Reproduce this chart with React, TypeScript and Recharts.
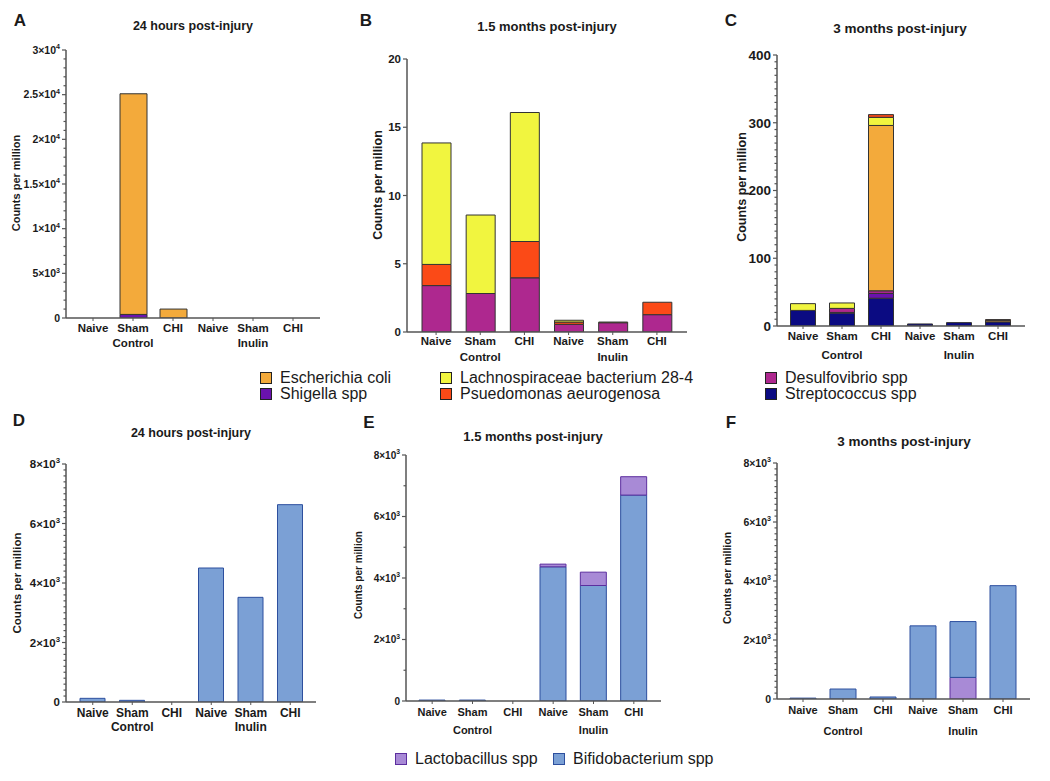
import React from "react";
import { BarChart, Bar, XAxis, YAxis } from "recharts";

const conditions = ["Naive", "Sham", "CHI", "Naive", "Sham", "CHI"];
const groups = ["Control", "Inulin"];

// A - 24 h, pathobionts
const aShigella = [0, 400, 0, 0, 0, 0];
const aEcoli = [0, 24700, 1000, 0, 0, 0];

// B - 1.5 months, pathobionts
const bDesulfo = [3.4, 2.82, 3.97, 0.56, 0.68, 1.27];
const bPseudo = [1.55, 0, 2.66, 0.17, 0, 0.91];
const bLachno = [8.9, 5.75, 9.45, 0.13, 0.05, 0];

// C - 3 months, pathobionts
const cStrep = [23, 19, 41, 3, 5, 6];
const cShigella = [0, 1, 7, 0, 0, 0];
const cDesulfo = [0, 6, 4, 0, 0, 0];
const cEcoli = [0, 0, 244, 0, 0, 2];
const cLachno = [10, 8, 12, 0, 0, 0];
const cPseudo = [0, 0, 4, 0, 0, 1.5];

// D-F - probiotics
const dBifido = [123, 56, 0, 4504, 3518, 6633];
const eBifido = [30, 30, 0, 4364, 3756, 6697];
const eLacto = [0, 0, 0, 87, 434, 597];
const fLacto = [0, 0, 0, 0, 732, 0];
const fBifido = [30, 338, 68, 2479, 1893, 3842];

const topLegend = [
  ["Escherichia coli", "Shigella spp"],
  ["Lachnospiraceae bacterium 28-4", "Psuedomonas aeurogenosa"],
  ["Desulfovibrio spp", "Streptococcus spp"],
];
const bottomLegend = ["Lactobacillus spp", "Bifidobacterium spp"];

const C = {
  ecoli: "#F3AA3B",
  shigella: "#6A12AE",
  lachno: "#F1F53F",
  pseudo: "#FB4A17",
  desulfo: "#AE288F",
  strep: "#0B0B82",
  lacto: "#A88AD6",
  bifido: "#7BA0D5",
};
const FONT = "'Liberation Sans', Arial, sans-serif";
const INK = "#1a1a1a";
const AXIS = "#555";

type Series = { key: string; values: number[]; fill: string; stroke: string };

const rowsFor = (series: Series[]) =>
  conditions.map((cond, i) => {
    const row: Record<string, any> = { key: "c" + i, cond };
    series.forEach((s) => (row[s.key] = s.values[i]));
    return row;
  });

const sup = (v: number) => {
  if (v === 0) return { m: "0", e: "" };
  const e = v >= 10000 ? 4 : 3;
  return { m: String(v / 10 ** e), e: String(e) };
};

const YTick = (p: any) => {
  const { x, y, payload, cfg } = p;
  const v = payload.value;
  const major = cfg.majors.includes(v);
  const fs = cfg.tickFs;
  let label: any = null;
  if (major) {
    if (cfg.sci) {
      const s = sup(v);
      label = (
        <text x={x - 6} y={y + fs * 0.36} textAnchor="end" fontSize={fs} fontWeight="bold" fill={INK} fontFamily={FONT}>
          {s.m}
          {s.e && <tspan>×10</tspan>}
          {s.e && <tspan dy={-fs * 0.42} fontSize={fs * 0.68}>{s.e}</tspan>}
        </text>
      );
    } else {
      label = (
        <text x={x - 6} y={y + fs * 0.36} textAnchor="end" fontSize={fs} fontWeight="bold" fill={INK} fontFamily={FONT}>
          {v}
        </text>
      );
    }
  }
  return (
    <g>
      <line x1={x} x2={x - (major ? 4 : 2.5)} y1={y} y2={y} stroke={AXIS} strokeWidth={1.2} />
      {label}
    </g>
  );
};

const XTick = (p: any) => {
  const { x, y, index, cfg } = p;
  return (
    <g fontFamily={FONT} fontWeight="bold" fill={INK}>
      <line x1={x} x2={x} y1={y} y2={y + 3} stroke={AXIS} strokeWidth={1} />
      <text x={x} y={y + cfg.tickBase} textAnchor="middle" fontSize={cfg.xFs}>
        {conditions[index]}
      </text>
      {index % 3 === 1 && (
        <text x={x} y={y + cfg.groupBase} textAnchor="middle" fontSize={cfg.xFs}>
          {groups[Math.floor(index / 3)]}
        </text>
      )}
    </g>
  );
};

type Cfg = {
  x0: number; x1: number; yTop: number; yBottom: number; max: number; majors: number[]; minor: number;
  sci: boolean; tickFs: number; xFs: number; tickBase: number; groupBase: number; barSize: number;
  pad: [number, number]; series: Series[];
  letter: string; letterPos: [number, number]; title: string; titlePos: [number, number]; titleFs: number;
  yLabelPos: [number, number]; yLabelFs: number;
};

const L = 60, T = 10, R = 10, XH = 45;

const Panel = ({ cfg }: { cfg: Cfg }) => {
  const ticks = [...cfg.majors];
  if (cfg.minor) for (let v = 0; v <= cfg.max; v += cfg.minor) if (!ticks.includes(v)) ticks.push(v);
  ticks.sort((a, b) => a - b);
  const data = rowsFor(cfg.series);
  return (
    <>
      <div style={{ position: "absolute", left: cfg.letterPos[0], top: cfg.letterPos[1], transform: "translate(-50%,-50%)", fontFamily: FONT, fontWeight: "bold", fontSize: 17, color: INK }}>
        {cfg.letter}
      </div>
      <div style={{ position: "absolute", left: cfg.titlePos[0], top: cfg.titlePos[1], transform: "translate(-50%,-50%)", fontFamily: FONT, fontWeight: "bold", fontSize: cfg.titleFs, color: INK, whiteSpace: "nowrap" }}>
        {cfg.title}
      </div>
      <div style={{ position: "absolute", left: cfg.yLabelPos[0], top: cfg.yLabelPos[1], transform: "translate(-50%,-50%) rotate(-90deg)", fontFamily: FONT, fontWeight: "bold", fontSize: cfg.yLabelFs, color: INK, whiteSpace: "nowrap" }}>
        Counts per million
      </div>
      <div style={{ position: "absolute", left: cfg.x0 - L, top: cfg.yTop - T }}>
        <BarChart
          width={cfg.x1 - cfg.x0 + L + R}
          height={cfg.yBottom - cfg.yTop + T + XH}
          data={data}
          margin={{ top: T, right: R, left: 0, bottom: 0 }}
          barCategoryGap={0}
        >
          <XAxis
            dataKey="key"
            height={XH}
            padding={{ left: cfg.pad[0], right: cfg.pad[1] }}
            axisLine={{ stroke: AXIS, strokeWidth: 1.5 }}
            tickLine={false}
            tickSize={0}
            tickMargin={0}
            interval={0}
            tick={(p: any) => <XTick {...p} cfg={cfg} />}
          />
          <YAxis
            width={L}
            domain={[0, cfg.max]}
            ticks={ticks}
            interval={0}
            allowDataOverflow
            axisLine={{ stroke: AXIS, strokeWidth: 1.5 }}
            tickLine={false}
            tickSize={0}
            tickMargin={0}
            tick={(p: any) => <YTick {...p} cfg={cfg} />}
          />
          {cfg.series.map((s) => (
            <Bar key={s.key} dataKey={s.key} stackId="s" fill={s.fill} stroke={s.stroke} strokeWidth={1} barSize={cfg.barSize} isAnimationActive={false} />
          ))}
        </BarChart>
      </div>
    </>
  );
};

const dark = "#333";
const blueLine = "#2D4F9E";
const purpleLine = "#5C2E9E";

const panels: Cfg[] = [
  {
    x0: 66, x1: 320, yTop: 50, yBottom: 318, max: 30000, majors: [0, 5000, 10000, 15000, 20000, 25000, 30000], minor: 1000,
    sci: true, tickFs: 10.5, xFs: 11.5, tickBase: 14, groupBase: 29, barSize: 27, pad: [7, 7],
    series: [
      { key: "shigella", values: aShigella, fill: C.shigella, stroke: dark },
      { key: "ecoli", values: aEcoli, fill: C.ecoli, stroke: dark },
    ],
    letter: "A", letterPos: [20, 21], title: "24 hours post-injury", titlePos: [193, 26], titleFs: 12.5,
    yLabelPos: [16, 183], yLabelFs: 11,
  },
  {
    x0: 407, x1: 687, yTop: 59, yBottom: 332, max: 20, majors: [0, 5, 10, 15, 20], minor: 0,
    sci: false, tickFs: 11.5, xFs: 11.5, tickBase: 13, groupBase: 29, barSize: 29, pad: [7, 8],
    series: [
      { key: "desulfo", values: bDesulfo, fill: C.desulfo, stroke: dark },
      { key: "pseudo", values: bPseudo, fill: C.pseudo, stroke: dark },
      { key: "lachno", values: bLachno, fill: C.lachno, stroke: dark },
    ],
    letter: "B", letterPos: [366, 21], title: "1.5 months post-injury", titlePos: [547, 26], titleFs: 13,
    yLabelPos: [378, 185], yLabelFs: 12.5,
  },
  {
    x0: 777, x1: 1025, yTop: 55, yBottom: 326, max: 400, majors: [0, 100, 200, 300, 400], minor: 10,
    sci: false, tickFs: 13.5, xFs: 11.5, tickBase: 14, groupBase: 33, barSize: 25, pad: [6.5, 7.5],
    series: [
      { key: "strep", values: cStrep, fill: C.strep, stroke: dark },
      { key: "shigella", values: cShigella, fill: C.shigella, stroke: dark },
      { key: "desulfo", values: cDesulfo, fill: C.desulfo, stroke: dark },
      { key: "ecoli", values: cEcoli, fill: C.ecoli, stroke: dark },
      { key: "lachno", values: cLachno, fill: C.lachno, stroke: dark },
      { key: "pseudo", values: cPseudo, fill: C.pseudo, stroke: dark },
    ],
    letter: "C", letterPos: [731, 21], title: "3 months post-injury", titlePos: [900, 28], titleFs: 13.5,
    yLabelPos: [742, 187], yLabelFs: 12.5,
  },
  {
    x0: 66, x1: 316, yTop: 464, yBottom: 702, max: 8000, majors: [0, 2000, 4000, 6000, 8000], minor: 200,
    sci: true, tickFs: 11.5, xFs: 12, tickBase: 15, groupBase: 29, barSize: 25, pad: [7, 6],
    series: [{ key: "bifido", values: dBifido, fill: C.bifido, stroke: blueLine }],
    letter: "D", letterPos: [19, 421], title: "24 hours post-injury", titlePos: [191, 433], titleFs: 12.5,
    yLabelPos: [17, 583], yLabelFs: 11.5,
  },
  {
    x0: 406, x1: 661, yTop: 455, yBottom: 701, max: 8000, majors: [0, 2000, 4000, 6000, 8000], minor: 1000,
    sci: true, tickFs: 10, xFs: 11, tickBase: 15, groupBase: 33, barSize: 26, pad: [6, 7],
    series: [
      { key: "bifido", values: eBifido, fill: C.bifido, stroke: blueLine },
      { key: "lacto", values: eLacto, fill: C.lacto, stroke: purpleLine },
    ],
    letter: "E", letterPos: [369, 423], title: "1.5 months post-injury", titlePos: [533, 436], titleFs: 13,
    yLabelPos: [358, 575], yLabelFs: 10,
  },
  {
    x0: 777, x1: 1030, yTop: 463, yBottom: 699, max: 8000, majors: [0, 2000, 4000, 6000, 8000], minor: 200,
    sci: true, tickFs: 10.5, xFs: 11, tickBase: 15, groupBase: 36, barSize: 26, pad: [6, 7],
    series: [
      { key: "lacto", values: fLacto, fill: C.lacto, stroke: purpleLine },
      { key: "bifido", values: fBifido, fill: C.bifido, stroke: blueLine },
    ],
    letter: "F", letterPos: [731, 423], title: "3 months post-injury", titlePos: [904, 441], titleFs: 13.5,
    yLabelPos: [727, 578], yLabelFs: 10.5,
  },
];

const topSwatches = [
  [C.ecoli, C.shigella],
  [C.lachno, C.pseudo],
  [C.desulfo, C.strep],
];
const topCols = [260, 440, 765];

const Swatch = ({ x, y, fill, border }: { x: number; y: number; fill: string; border: string }) => (
  <div style={{ position: "absolute", left: x, top: y - 6.5, width: 10, height: 10, background: fill, border: `1.5px solid ${border}` }} />
);

const LegendText = ({ x, y, text }: { x: number; y: number; text: string }) => (
  <div style={{ position: "absolute", left: x, top: y, transform: "translateY(-50%)", fontFamily: FONT, fontSize: 16, color: INK, whiteSpace: "nowrap", lineHeight: 1 }}>
    {text}
  </div>
);

export default function App() {
  return (
    <div style={{ position: "absolute", left: 0, top: 0, width: 1050, height: 781, background: "#fff", overflow: "hidden" }}>
      {panels.map((cfg) => (
        <Panel key={cfg.letter} cfg={cfg} />
      ))}
      {topLegend.map((col, ci) =>
        col.map((text, ri) => (
          <React.Fragment key={text}>
            <Swatch x={topCols[ci]} y={378 + ri * 16} fill={topSwatches[ci][ri]} border="#222" />
            <LegendText x={topCols[ci] + 20} y={378 + ri * 16} text={text} />
          </React.Fragment>
        ))
      )}
      <Swatch x={395} y={759} fill={C.lacto} border={purpleLine} />
      <LegendText x={415} y={759} text={bottomLegend[0]} />
      <Swatch x={553} y={759} fill={C.bifido} border={blueLine} />
      <LegendText x={573} y={759} text={bottomLegend[1]} />
    </div>
  );
}
